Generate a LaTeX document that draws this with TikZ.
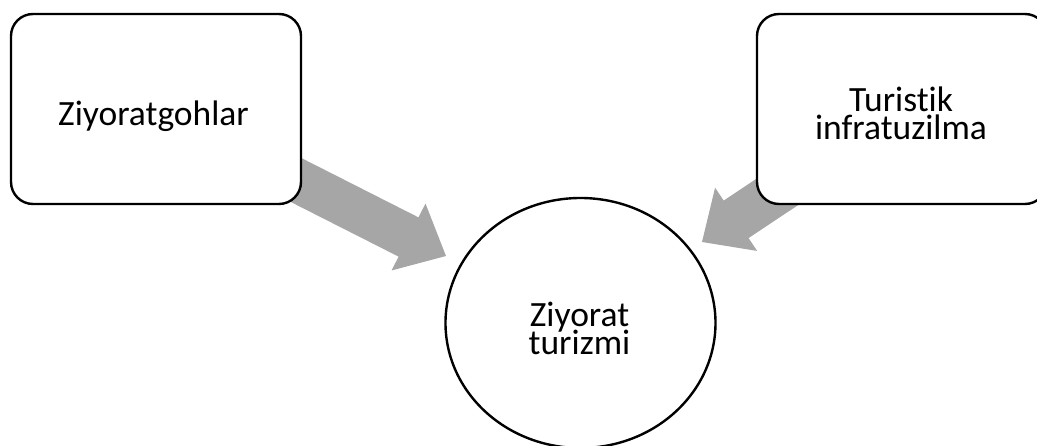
\documentclass[tikz,border=0pt]{standalone}
\usepackage{fontspec}
\setmainfont{Carlito}[Ligatures=NoCommon]
\usetikzlibrary{calc,backgrounds,shapes.geometric}
\definecolor{flowgray}{RGB}{166,166,166}
\newcommand\flowcapfont{\fontsize{35.5pt}{28pt}\selectfont\lineskiplimit=-50pt\relax}
\begin{document}
\begin{tikzpicture}[x=1pt,y=-1pt,
  box/.style={draw=black, line width=2.4pt, rounded corners=22pt, fill=white,
    minimum width=290pt, minimum height=190pt, inner sep=0pt},
  hub/.style={draw=black, line width=2.4pt, ellipse, fill=white,
    minimum width=270pt, minimum height=250pt, inner sep=0pt},
  lbl/.style={font=\flowcapfont, align=center, anchor=base, inner sep=0pt},
  flow/.style={fill=flowgray, draw=none}]
  \useasboundingbox (0,0) rectangle (1037,446);

  % the three shapes
  \node[box] (src)  at (156,109) {};
  \node[box] (infra) at (902,109) {};
  \node[hub] (goal) at (580.5,323) {};

  % their captions (anchored at the baseline of the last line)
  \node[lbl] (srctext)   at (153.5,126) {Ziyoratgohlar};
  \node[lbl] (infratext) at (901,140) {Turistik\\infratuzilma};
  \node[lbl] (goaltext)  at (579.5,354.3) {Ziyorat\\turizmi};

  % tips of the two block arrows
  \coordinate (srctip) at (446,256);
  \coordinate (infratip) at (702,242);
  \coordinate (srchead) at ($(srctip)!42pt!(src.center)$);
  \coordinate (infrahead) at ($(infratip)!41pt!(infra.center)$);

  \begin{scope}[on background layer]
    \fill[flow] ($(src.center)!22pt!90:(srctip)$)
      -- ($(srchead)!22pt!90:(srctip)$) -- ($(srchead)!37.5pt!90:(srctip)$)
      -- (srctip)
      -- ($(srchead)!37.5pt!-90:(srctip)$) -- ($(srchead)!22pt!-90:(srctip)$)
      -- ($(src.center)!22pt!-90:(srctip)$) -- cycle;
    \fill[flow] ($(infra.center)!22.5pt!90:(infratip)$)
      -- ($(infrahead)!22.5pt!90:(infratip)$) -- ($(infrahead)!38pt!90:(infratip)$)
      -- (infratip)
      -- ($(infrahead)!38pt!-90:(infratip)$) -- ($(infrahead)!22.5pt!-90:(infratip)$)
      -- ($(infra.center)!22.5pt!-90:(infratip)$) -- cycle;
  \end{scope}
\end{tikzpicture}
\end{document}
